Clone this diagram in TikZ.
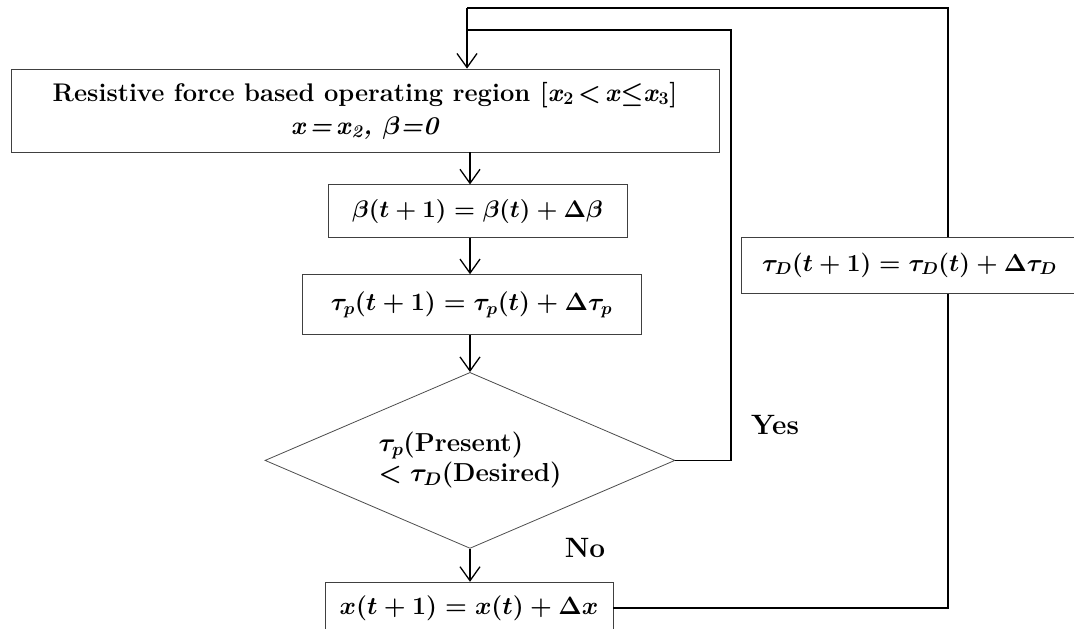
\RequirePackage{fix-cm}
\documentclass[tikz,border=0pt]{standalone}
\usepackage{amsmath,amssymb}
\usepackage{fontspec}
\usepackage{tikz}
\usetikzlibrary{shapes.geometric, arrows.meta, positioning}
\tikzset{
  box/.style={rectangle, draw=black!75, line width=0.8pt, fill=white, inner sep=0pt, align=center},
  decision/.style={diamond, draw=black!70, line width=0.8pt, aspect=2.33, inner sep=0pt, align=left,
    font=\fontsize{26}{30}\selectfont\boldmath},
  arrow/.style={-{Straight Barb[length=14pt, width=20pt]}, line width=1.3pt},
  loopline/.style={line width=1.7pt},
  label/.style={font=\bfseries\fontsize{28}{32}\selectfont},
}

\begin{document}
\begin{tikzpicture}[x=1pt, y=-1pt, font=\fontsize{25}{29}\selectfont\boldmath]
    \useasboundingbox (0,0) rectangle (1074,629);
    \coordinate (drop) at (467,0);
    \node[box, minimum width=708pt, minimum height=83pt, font=\bfseries\boldmath\fontsize{25.5}{33}\selectfont]
      (region) at (365,110.5)
      {Resistive force based operating region [\textit{x}\textsubscript{2}\,<\,\textit{x}$\leq$\textit{x}\textsubscript{3}]\\
       \textit{x\,=\,x}\textsubscript{\textit{2}}\textit{, }$\beta$\textit{=0}};
    \node[box, below=32pt of region, xshift=112.5pt, minimum width=299pt, minimum height=53pt,
      font=\fontsize{24}{28}\selectfont\boldmath] (beta)
      {$\beta(t+1) = \beta(t) + \Delta\beta$};
    \node[box, below=36pt of beta, xshift=-6pt, minimum width=339pt, minimum height=60pt] (taup)
      {$\tau_p(t+1) = \tau_p(t) + \Delta\tau_p$};
    \node[decision, below=37pt of taup, xshift=-1.5pt, minimum width=410pt, minimum height=176pt] (cond)
      {$\tau_p(\textbf{Present})$\\$< \tau_D(\textbf{Desired})$};
    \node[box, below=33pt of cond, xshift=-1pt, minimum width=288pt, minimum height=52pt] (xupd)
      {$x(t+1) = x(t) + \Delta x$};
    % loop corners
    \coordinate (yestop) at (731,30);
    \coordinate (outtop) at (948,8);
    \draw[arrow] (region.south -| cond.north) -- (beta.north -| cond.north);
    \draw[arrow] (beta.south -| cond.north) -- (taup.north -| cond.north);
    \draw[arrow] (taup.south -| cond.north) -- (cond.north);
    \draw[arrow] (cond.south) -- (xupd.north -| cond.south);
    \draw[loopline] (cond.east) -| (yestop) -- (yestop -| drop);
    \draw[loopline] (xupd.east) -| (outtop) -- (outtop -| drop);
    \draw[arrow] (outtop -| drop) -- (region.north -| drop);
    \node[box, minimum width=337pt, minimum height=56pt, font=\fontsize{24.5}{28}\selectfont\boldmath] (taud) at (909.5,265)
      {$\tau_D(t+1) = \tau_D(t) + \Delta\tau_D$};
    \node[label] (yes) at (775,425) {Yes};
    \node[label] (no) at (585,548) {No};
  \end{tikzpicture}
\end{document}
